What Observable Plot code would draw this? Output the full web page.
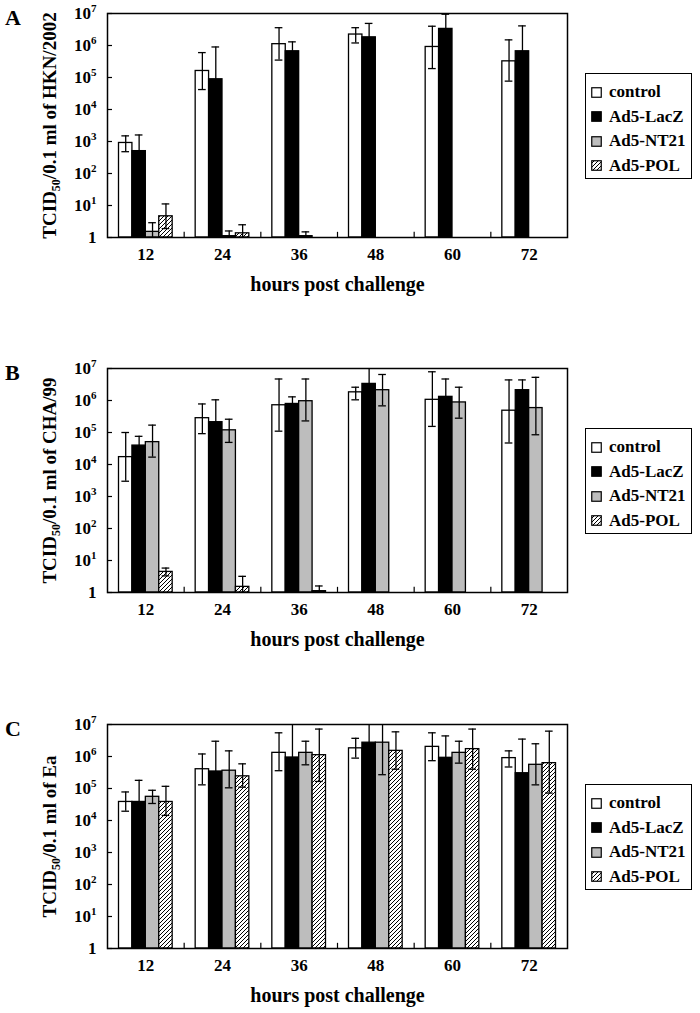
<!DOCTYPE html>
<html>
<head>
<meta charset="utf-8">
<script src="https://cdn.jsdelivr.net/npm/d3@7"></script>
<script src="https://cdn.jsdelivr.net/npm/@observablehq/plot@0.6"></script>
<style>
  html, body { margin: 0; padding: 0; background: #fff; }
  body { width: 700px; height: 1013px; position: relative; overflow: hidden; font-family: "Liberation Serif", "Times New Roman", serif; }
  .panel { position: absolute; left: 0; width: 700px; height: 300px; }
  .letter { position: absolute; left: 5px; top: 5px; font: bold 22px "Liberation Serif", serif; }
  .legend { position: absolute; left: 585px; top: 73px; width: 107px; height: 106px; border: 1.5px solid #000; box-sizing: border-box; padding: 6px 0 0 5px; font: bold 17px "Liberation Serif", serif; }
  .legend .row { height: 24.5px; line-height: 24.5px; display: flex; align-items: center; white-space: nowrap; }
  .legend svg { margin-right: 7px; flex: none; }
</style>
</head>
<body>
<svg width="0" height="0" style="position:absolute">
  <defs>
    <pattern id="hatch" patternUnits="userSpaceOnUse" width="4" height="4">
      <rect width="4" height="4" fill="#fff"/>
      <path d="M-1,1 l2,-2 M0,4 l4,-4 M3,5 l2,-2" stroke="#000" stroke-width="1"/>
    </pattern>
  </defs>
</svg>
<div id="root"></div>
<script>
// ---------- categories ----------
const hours = ["12", "24", "36", "48", "60", "72"];
const series = ["control", "Ad5-LacZ", "Ad5-NT21", "Ad5-POL"];
const yTicks = [1, 10, 100, 1e3, 1e4, 1e5, 1e6, 1e7];
const groupBoundaries = [1, 2, 3, 4, 5];

// ---------- Panel A: HKN/2002 (mean, upper, lower error) ----------
const hknControl   = [900, 1.6e5, 1.1e6, 2.2e6, 9e5, 3.2e5];
const hknControlHi = [1500, 6e5, 3.6e6, 3.6e6, 4e6, 1.5e6];
const hknControlLo = [480, 4.2e4, 3.5e5, 1.2e6, 1.9e5, 7.7e4];
const hknLacZ      = [500, 8.8e4, 6.6e5, 1.8e6, 3.3e6, 6.6e5];
const hknLacZHi    = [1600, 9e5, 1.3e6, 4.9e6, 9.5e6, 4.1e6];
const hknLacZLo    = [150, 9e3, 3.3e5, 6.6e5, 1.1e6, 1.1e5];
const hknNT21      = [1.5, 1.1, 1.1, null, null, null];
const hknNT21Hi    = [2.9, 1.6, 1.5, null, null, null];
const hknNT21Lo    = [1, 1, 1, null, null, null];
const hknPOL       = [4.6, 1.35, null, null, null, null];
const hknPOLHi     = [11.2, 2.5, null, null, null, null];
const hknPOLLo     = [1.9, 1, null, null, null, null];

// ---------- Panel B: CHA/99 ----------
const chaControl   = [1.7e4, 2.8e5, 7.1e5, 1.8e6, 1.05e6, 4.8e5];
const chaControlHi = [1.0e5, 7.8e5, 4.7e6, 2.6e6, 7.9e6, 4.4e6];
const chaControlLo = [3e3, 9.2e4, 1.1e5, 1.05e6, 1.55e5, 4.7e4];
const chaLacZ      = [3.9e4, 2.1e5, 7.8e5, 3.3e6, 1.3e6, 2.1e6];
const chaLacZHi    = [7.6e4, 1.05e6, 1.3e6, 1.2e7, 4.7e6, 4.4e6];
const chaLacZLo    = [2e4, 4.2e4, 4.7e5, 9e5, 3.6e5, 1e6];
const chaNT21      = [5.0e4, 1.17e5, 9.5e5, 2.1e6, 8.7e5, 5.8e5];
const chaNT21Hi    = [1.7e5, 2.6e5, 4.7e6, 6.5e6, 2.6e6, 5.3e6];
const chaNT21Lo    = [1.7e4, 4.9e4, 2.3e5, 6.8e5, 2.8e5, 8.5e4];
const chaPOL       = [4.4, 1.5, 1.1, null, null, null];
const chaPOLHi     = [5.8, 3.2, 1.6, null, null, null];
const chaPOLLo     = [3.3, 1, 1, null, null, null];

// ---------- Panel C: Ea ----------
const eaControl    = [3.8e4, 4e5, 1.3e6, 1.8e6, 2.0e6, 8.9e5];
const eaControlHi  = [7.8e4, 1.2e6, 5.5e6, 3.7e6, 5.5e6, 1.5e6];
const eaControlLo  = [1.95e4, 1.3e5, 3.6e5, 8.9e5, 7.4e5, 4.7e5];
const eaLacZ       = [3.8e4, 3.4e5, 9.3e5, 2.7e6, 9.1e5, 3e5];
const eaLacZHi     = [1.8e5, 3e6, 1.5e7, 1.5e7, 4.4e6, 3.5e6];
const eaLacZLo     = [8e3, 4e4, 6e4, 5e5, 2e5, 3e4];
const eaNT21       = [5.5e4, 3.6e5, 1.3e6, 2.7e6, 1.3e6, 5.5e5];
const eaNT21Hi     = [8.8e4, 1.5e6, 3e6, 1.5e7, 3e6, 2.5e6];
const eaNT21Lo     = [3.4e4, 1.05e5, 5.5e5, 2.7e5, 6.2e5, 1.3e5];
const eaPOL        = [3.8e4, 2.4e5, 1.1e6, 1.5e6, 1.7e6, 6.2e5];
const eaPOLHi      = [1.17e5, 5.9e5, 7.2e6, 5.9e6, 7.2e6, 6.2e6];
const eaPOLLo      = [1.44e4, 1.1e5, 1.66e5, 4e5, 4e5, 7.2e4];

const fills = ["#ffffff", "#000000", "#bdbdbd", "url(#hatch)"];
const groupPad = 0.15, barWidth = 0.175, capHalf = 0.05;

const panels = [
  {letter: "A", label: "TCID50/0.1 ml of HKN/2002", top: 0,
   means: [hknControl, hknLacZ, hknNT21, hknPOL], his: [hknControlHi, hknLacZHi, hknNT21Hi, hknPOLHi], los: [hknControlLo, hknLacZLo, hknNT21Lo, hknPOLLo]},
  {letter: "B", label: "TCID50/0.1 ml of CHA/99", top: 355,
   means: [chaControl, chaLacZ, chaNT21, chaPOL], his: [chaControlHi, chaLacZHi, chaNT21Hi, chaPOLHi], los: [chaControlLo, chaLacZLo, chaNT21Lo, chaPOLLo]},
  {letter: "C", label: "TCID50/0.1 ml of Ea", top: 711,
   means: [eaControl, eaLacZ, eaNT21, eaPOL], his: [eaControlHi, eaLacZHi, eaNT21Hi, eaPOLHi], los: [eaControlLo, eaLacZLo, eaNT21Lo, eaPOLLo]}
];

const NS = "http://www.w3.org/2000/svg";

function buildRows(p) {
  const rows = [];
  hours.forEach((h, g) => series.forEach((s, i) => {
    const v = p.means[i][g];
    if (v == null) return;
    const x1 = g + groupPad + i * barWidth;
    rows.push({g, i, hour: h, series: s, value: v, hi: p.his[i][g], lo: p.los[i][g],
               x1, x2: x1 + barWidth, xc: x1 + barWidth / 2});
  }));
  return rows;
}

function drawPanel(p) {
  const rows = buildRows(p);
  const barMarks = series.map((s, i) => Plot.rectY(rows.filter(d => d.i === i), {
    x1: "x1", x2: "x2", y1: 1, y2: "value", fill: fills[i], stroke: "#000", strokeWidth: 1.3
  }));
  const svg = Plot.plot({
    width: 700, height: 300,
    marginTop: 13, marginBottom: 63, marginLeft: 107, marginRight: 133,
    style: {fontFamily: "'Liberation Serif', 'Times New Roman', serif", fontWeight: "bold", color: "#000", background: "#fff"},
    x: {type: "linear", domain: [0, hours.length]},
    y: {type: "log", domain: [1, 1e7]},
    marks: [
      ...barMarks,
      Plot.ruleX(rows, {x: "xc", y1: "lo", y2: "hi", stroke: "#000", strokeWidth: 1.3, clip: true}),
      Plot.ruleY(rows, {y: "hi", x1: d => d.xc - capHalf, x2: d => d.xc + capHalf, stroke: "#000", strokeWidth: 1.3, clip: true}),
      Plot.ruleY(rows, {y: "lo", x1: d => d.xc - capHalf, x2: d => d.xc + capHalf, stroke: "#000", strokeWidth: 1.3, clip: true}),
      Plot.ruleY(yTicks, {y: d => d, x1: 0, x2: 0.065, stroke: "#000", strokeWidth: 1.2}),
      Plot.ruleX(groupBoundaries, {x: d => d, y1: 1, y2: 1.45, stroke: "#000", strokeWidth: 1.2}),
      Plot.axisY({ticks: yTicks, tickSize: 0, tickPadding: 11, fontSize: 17,
        tickFormat: d => d === 1 ? "1" : "10^" + Math.round(Math.log10(d)),
        label: p.label, labelAnchor: "center", labelOffset: 65, labelArrow: "none"}),
      Plot.axisX({ticks: hours.map((h, g) => g + 0.5), tickSize: 0, tickPadding: 10, fontSize: 17,
        tickFormat: d => hours[Math.floor(d)],
        label: "hours post challenge", labelAnchor: "center", labelOffset: 53, labelArrow: "none"}),
      Plot.frame({stroke: "#000", strokeWidth: 1.5})
    ]
  });
  // superscripts / subscripts as real text
  svg.querySelectorAll("text").forEach(t => {
    const txt = t.textContent;
    const m = /^10\^(\d+)$/.exec(txt);
    if (m) {
      t.textContent = "10";
      const ts = document.createElementNS(NS, "tspan");
      ts.setAttribute("dy", "-7");
      ts.setAttribute("font-size", "11");
      ts.textContent = m[1];
      t.appendChild(ts);
    } else if (txt.startsWith("TCID50")) {
      t.textContent = "TCID";
      t.setAttribute("font-size", "19");
      const sub = document.createElementNS(NS, "tspan");
      sub.setAttribute("dy", "4");
      sub.setAttribute("font-size", "12");
      sub.textContent = "50";
      const rest = document.createElementNS(NS, "tspan");
      rest.setAttribute("dy", "-4");
      rest.textContent = txt.slice(6);
      t.appendChild(sub);
      t.appendChild(rest);
    } else if (txt.startsWith("hours post")) {
      t.setAttribute("font-size", "20");
    }
  });
  return svg;
}

const root = document.getElementById("root");
panels.forEach(p => {
  const div = document.createElement("div");
  div.className = "panel";
  div.style.top = p.top + "px";
  div.appendChild(drawPanel(p));
  const letter = document.createElement("div");
  letter.className = "letter";
  letter.textContent = p.letter;
  div.appendChild(letter);
  const legend = document.createElement("div");
  legend.className = "legend";
  series.forEach((s, i) => {
    const row = document.createElement("div");
    row.className = "row";
    const sw = document.createElementNS(NS, "svg");
    sw.setAttribute("width", "11"); sw.setAttribute("height", "11");
    const r = document.createElementNS(NS, "rect");
    r.setAttribute("x", "0.75"); r.setAttribute("y", "0.75");
    r.setAttribute("width", "9.5"); r.setAttribute("height", "9.5");
    r.setAttribute("fill", fills[i]); r.setAttribute("stroke", "#000"); r.setAttribute("stroke-width", "1.2");
    sw.appendChild(r);
    row.appendChild(sw);
    row.appendChild(document.createTextNode(s));
    legend.appendChild(row);
  });
  div.appendChild(legend);
  root.appendChild(div);
});
</script>
</body>
</html>
